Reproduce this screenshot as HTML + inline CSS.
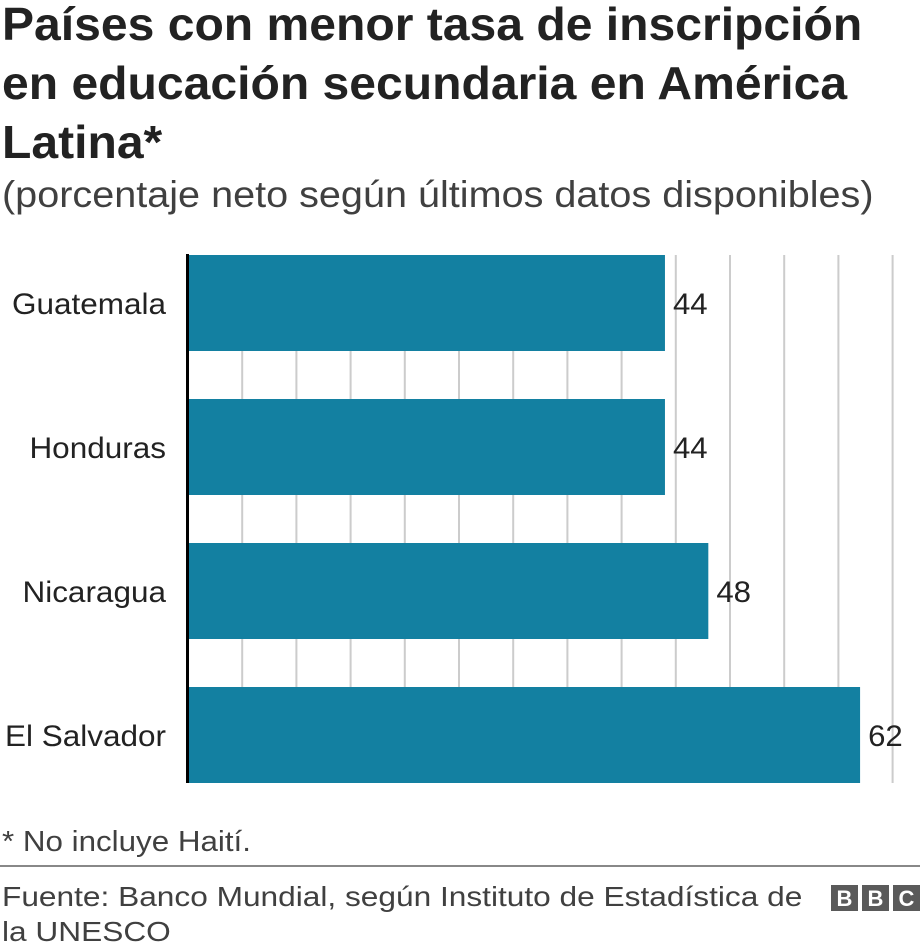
<!DOCTYPE html>
<html><head><meta charset="utf-8"><style>
body{margin:0;width:920px;height:952px;background:#fff;font-family:"Liberation Sans",Arial,sans-serif;position:relative;overflow:hidden;color:#222}
.sx{transform-origin:0 0;white-space:nowrap}
.t{position:absolute;left:2px;top:-5px;font-size:46px;font-weight:bold;line-height:59px;color:#222;margin:0;transform:scaleX(1.045)}
.s{position:absolute;left:2px;top:176px;font-size:37px;line-height:37px;color:#404040;transform:scaleX(1.07)}
.note{position:absolute;left:2px;top:828px;font-size:29px;line-height:29px;color:#404040;transform:scaleX(1.08)}
.src{position:absolute;left:2px;top:879px;font-size:28px;line-height:35px;color:#404040;transform:scaleX(1.13)}
.bbc{position:absolute;top:885px;width:27px;height:26px;background:#5a5a5a;color:#fff;font-weight:bold;font-size:22px;text-align:center;line-height:27px}
</style></head><body>
<h1 class="t sx">Países con menor tasa de inscripción<br>en educación secundaria en América<br>Latina*</h1>
<div class="s sx">(porcentaje neto según últimos datos disponibles)</div>
<svg id="chart" width="920" height="952" style="position:absolute;left:0;top:0"></svg>
<div class="note sx">* No incluye Haití.</div>
<div style="position:absolute;left:0;top:865px;width:920px;height:2px;background:#888"></div>
<div class="src sx">Fuente: Banco Mundial, según Instituto de Estadística de<br>la UNESCO</div>
<div class="bbc" style="left:831px">B</div>
<div class="bbc" style="left:862px">B</div>
<div class="bbc" style="left:893px">C</div>
<script>
const categories=["Guatemala","Honduras","Nicaragua","El Salvador"];
const values=[44,44,48,62];
const gridTicks=[5,10,15,20,25,30,35,40,45,50,55,60,65];
const NS="http://www.w3.org/2000/svg";
const svg=document.getElementById('chart');
const x=v=>188+v*10.84;
const yTop=i=>255+i*144;
const bh=96;
function mk(t,a){const e=document.createElementNS(NS,t);for(const k in a)e.setAttribute(k,a[k]);svg.appendChild(e);return e;}
gridTicks.forEach(t=>{
 const l=mk('line',{x1:x(t),x2:x(t),y1:255,y2:783,stroke:'#cccccc','stroke-width':2});
 
 
});
categories.forEach((c,i)=>{
 const r=mk('rect',{x:x(0),y:yTop(i),width:x(values[i])-x(0),height:bh,fill:'#1380a1'});
 
 
 const lt=mk('text',{x:0,y:0,transform:'translate(166,'+(yTop(i)+bh/2+11)+') scale(1.05,1)','text-anchor':'end','font-size':30,fill:'#222','font-family':'Liberation Sans, sans-serif'});
 lt.textContent=c;
 
 
 const vt=mk('text',{x:0,y:0,transform:'translate('+(x(values[i])+8)+','+(yTop(i)+bh/2+11)+') scale(1.04,1)','font-size':30,fill:'#222','font-family':'Liberation Sans, sans-serif'});
 vt.textContent=values[i];
 
 
});
const ax=mk('line',{x1:187.5,x2:187.5,y1:254,y2:783,stroke:'#000','stroke-width':3});


</script>
</body></html>
